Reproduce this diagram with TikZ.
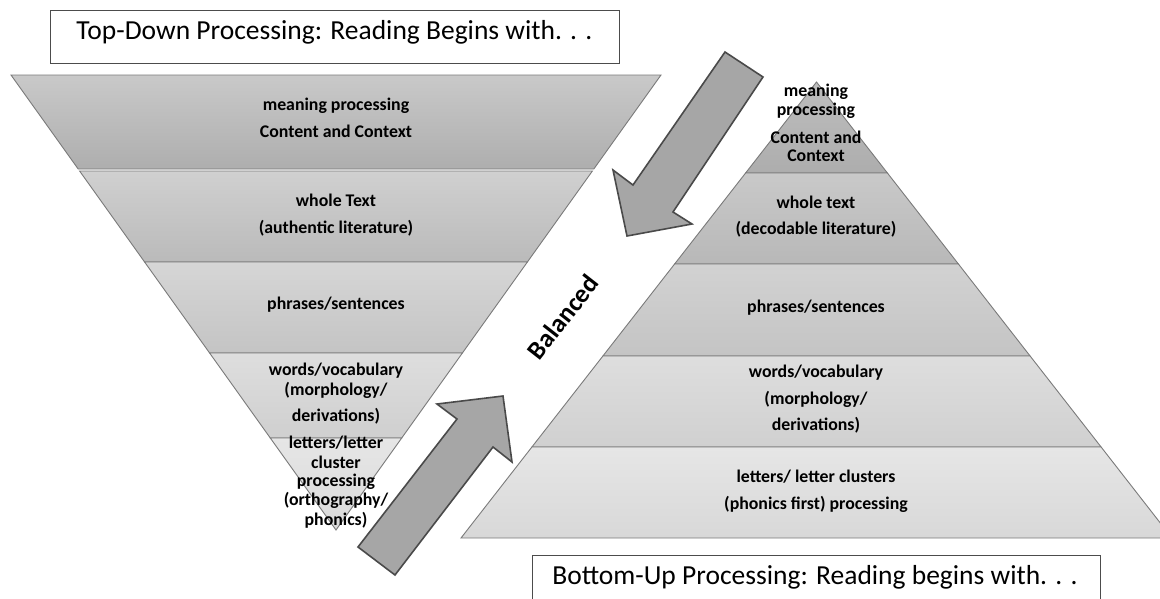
\documentclass[tikz,border=0pt]{standalone}
\usepackage{fontspec}
\setmainfont{Carlito}
\definecolor{aL1t}{HTML}{C9C9C9}\definecolor{aL1b}{HTML}{AEAEAE}
\definecolor{aL2t}{HTML}{D0D0D0}\definecolor{aL2b}{HTML}{BABABA}
\definecolor{aL3t}{HTML}{D6D6D6}\definecolor{aL3b}{HTML}{C4C4C4}
\definecolor{aL4t}{HTML}{DEDEDE}\definecolor{aL4b}{HTML}{CFCFCF}
\definecolor{aL5t}{HTML}{E6E6E6}\definecolor{aL5b}{HTML}{DADADA}
\definecolor{bR1t}{HTML}{BEBEBE}\definecolor{bR1b}{HTML}{ADADAD}
\definecolor{bR2t}{HTML}{C9C9C9}\definecolor{bR2b}{HTML}{B8B8B8}
\definecolor{bR3t}{HTML}{D2D2D2}\definecolor{bR3b}{HTML}{C4C4C4}
\definecolor{bR4t}{HTML}{DEDEDE}\definecolor{bR4b}{HTML}{D0D0D0}
\definecolor{bR5t}{HTML}{E6E6E6}\definecolor{bR5b}{HTML}{D8D8D8}
\definecolor{arrowfill}{HTML}{A6A6A6}
\definecolor{arrowline}{HTML}{4A4A4A}
\definecolor{bandline}{HTML}{7A7A7A}
\begin{document}
\begin{tikzpicture}[x=1pt,y=-1pt,
  band/.style={draw=bandline, line width=0.9pt, line join=miter},
  lbl/.style={font=\bfseries\fontsize{17.8}{17.8}\selectfont, text height=0.75em, text depth=0.25em, inner sep=0pt},
  titlebox/.style={draw=black!70, line width=1pt, fill=white},
  titletext/.style={font=\fontsize{27.5}{27.5}\selectfont, inner sep=0pt, text height=0.75em, text depth=0.25em},
  blockarrow/.style={draw=arrowline, line width=1.6pt, fill=arrowfill, line join=miter},
]
\useasboundingbox (0,0) rectangle (1160,598);
\clip (0,0) rectangle (1160,598);

% ---------- inverted pyramid (top-down) ----------
\path[band, top color=aL1t, bottom color=aL1b] (11,75) -- (661,75) -- (593.8,169) -- (78.2,169) -- cycle;
\path[band, top color=aL2t, bottom color=aL2b] (79.6,171) -- (592.4,171) -- (527.4,262) -- (144.6,262) -- cycle;
\path[band, top color=aL3t, bottom color=aL3b] (144.6,262) -- (527.4,262) -- (462.4,353) -- (209.6,353) -- cycle;
\path[band, top color=aL4t, bottom color=aL4b] (209.6,353) -- (462.4,353) -- (401.7,438) -- (270.3,438) -- cycle;
\path[band, top color=aL5t, bottom color=aL5b] (270.3,438) -- (401.7,438) -- (336,530) -- cycle;

\node[lbl] (l1a) at (336,108) {meaning processing};
\node[lbl] (l1b) at (336,135) {Content and Context};
\node[lbl] (l2a) at (336,204) {whole Text};
\node[lbl] (l2b) at (336,231) {(authentic literature)};
\node[lbl] (l3a) at (336,307) {phrases/sentences};
\node[lbl] (l4a) at (336,373) {words/vocabulary};
\node[lbl] (l4b) at (336,393) {(morphology/};
\node[lbl] (l4c) at (336,419) {derivations)};
\node[lbl] (l5a) at (336,446) {letters/letter};
\node[lbl] (l5b) at (336,466) {cluster};
\node[lbl] (l5c) at (336,484) {processing};
\node[lbl] (l5d) at (336,503) {(orthography/};
\node[lbl] (l5e) at (336,523) {phonics)};

% ---------- pyramid (bottom-up) ----------
\path[band, top color=bR1t, bottom color=bR1b] (816.5,82) -- (887.4,173) -- (745.6,173) -- cycle;
\path[band, top color=bR2t, bottom color=bR2b] (745.6,173) -- (887.4,173) -- (958.4,264) -- (674.6,264) -- cycle;
\path[band, top color=bR3t, bottom color=bR3b] (674.6,264) -- (958.4,264) -- (1030.1,356) -- (602.9,356) -- cycle;
\path[band, top color=bR4t, bottom color=bR4b] (602.9,356) -- (1030.1,356) -- (1101.1,447) -- (531.9,447) -- cycle;
\path[band, top color=bR5t, bottom color=bR5b] (531.9,447) -- (1101.1,447) -- (1172,538) -- (461,538) -- cycle;

\node[lbl] (r1a) at (816,94) {meaning};
\node[lbl] (r1b) at (816,113) {processing};
\node[lbl] (r1c) at (816,141) {Content and};
\node[lbl] (r1d) at (816,159) {Context};
\node[lbl] (r2a) at (816,206) {whole text};
\node[lbl] (r2b) at (816,232) {(decodable literature)};
\node[lbl] (r3a) at (816,310) {phrases/sentences};
\node[lbl] (r4a) at (816,375) {words/vocabulary};
\node[lbl] (r4b) at (816,402) {(morphology/};
\node[lbl] (r4c) at (816,428) {derivations)};
\node[lbl] (r5a) at (816,480) {letters/ letter clusters};
\node[lbl] (r5b) at (816,507) {(phonics first) processing};

% ---------- block arrows ----------
\path[blockarrow] (725,52) -- (763,77) -- (673,212) -- (692,224) -- (627,236) -- (613,170) -- (633,185) -- cycle;
\path[blockarrow] (358,547) -- (457,419) -- (437,404) -- (503,396) -- (512,462) -- (493,447) -- (395,575) -- cycle;

\node[rotate=52, font=\bfseries\fontsize{26}{26}\selectfont, inner sep=0pt] (bal) at (563,317) {Balanced};

% ---------- title boxes ----------
\node[titlebox, minimum width=569pt, minimum height=53pt, inner sep=0pt] (topbox) at (334.5,36.5) {};
\node[titletext] (toptext) at (topbox.center) {Top-Down Processing: Reading Begins with. . .};
\node[titlebox, minimum width=568pt, minimum height=60pt, inner sep=0pt] (botbox) at (816,585) {};
\node[titletext] (bottext) at (815,582) {Bottom-Up Processing: Reading begins with. . .};
\end{tikzpicture}
\end{document}
